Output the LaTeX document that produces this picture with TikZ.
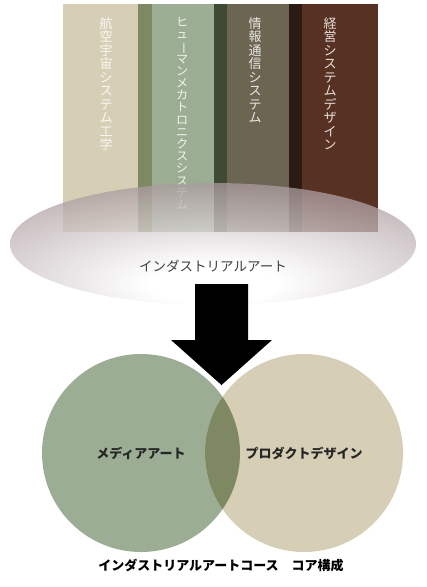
\documentclass[tikz,border=0pt]{standalone}
\usepackage{fontspec}
\setmainfont{Noto Sans CJK JP}
\usepackage{graphicx}
\usetikzlibrary{shapes.geometric}
\definecolor{sabbia}{HTML}{D6CFB5}
\definecolor{oliva}{HTML}{7E8963}
\definecolor{salvia}{HTML}{9BAE93}
\definecolor{bosco}{HTML}{3F4A34}
\definecolor{fango}{HTML}{6B6551}
\definecolor{ebano}{HTML}{2B1B12}
\definecolor{castagna}{HTML}{573222}
\definecolor{malva}{HTML}{9A878B}
\pgfdeclareradialshading{alone}{\pgfpoint{0bp}{-18bp}}{color(0bp)=(white); color(8bp)=(white); color(42bp)=(malva); color(100bp)=(malva)}
\tikzset{
colonna/.style={rectangle,inner sep=0pt,anchor=north west,minimum height=228pt},
verticale/.style={anchor=north,align=center,inner sep=0pt,text=white,text opacity=0.85,font=\fontsize{13}{13.5}\selectfont},
ellisse/.style={ellipse,inner sep=0pt,minimum width=406pt,minimum height=122pt,shading=alone,opacity=0.75},
cerchio/.style={circle,inner sep=0pt,minimum size=198pt,font=\bfseries\fontsize{13}{15}\selectfont,text=black!85},
contorno/.style={white,line width=7pt,line join=miter}}
\newcommand{\cho}{\makebox[1em]{\smash{\rotatebox[origin=c]{-90}{ー}}}}

\begin{document}
\begin{tikzpicture}[x=1pt,y=-1pt]
\useasboundingbox (0,0) rectangle (427,587);

% colonne
\node[colonna,fill=sabbia,minimum width=75pt] (aero) at (63,4) {};
\node[colonna,fill=oliva,minimum width=14pt] (s1) at (138,4) {};
\node[colonna,fill=salvia,minimum width=62pt] (umano) at (152,4) {};
\node[colonna,fill=bosco,minimum width=13pt] (s2) at (214,4) {};
\node[colonna,fill=fango,minimum width=62pt] (info) at (227,4) {};
\node[colonna,fill=ebano,minimum width=13pt] (s3) at (289,4) {};
\node[colonna,fill=castagna,minimum width=76pt] (gest) at (302,4) {};

\node[verticale] (t1) at (106,17) {航\\空\\宇\\宙\\シ\\ス\\テ\\ム\\工\\学};
\node[verticale,font=\fontsize{12}{12.2}\selectfont] (t2) at (182,17) {ヒ\\ュ\\\cho\\マ\\ン\\メ\\カ\\ト\\ロ\\ニ\\ク\\ス\\シ\\ス\\テ\\ム};
\node[verticale] (t3) at (255,17) {情\\報\\通\\信\\シ\\ス\\テ\\ム};
\node[verticale] (t4) at (330,17) {経\\営\\シ\\ス\\テ\\ム\\デ\\ザ\\イ\\ン};

% base
\node[ellisse] (arte) at (213,244) {};
\node[text=black!75,font=\fontsize{13.5}{15}\selectfont] (arte testo) at (213,266) {インダストリアルアート};

% cerchi
\node[cerchio,fill=salvia] (media) at (141,453) {};
\node[cerchio,fill=sabbia] (prodotto) at (304,453) {};
\begin{scope}
\clip (141,453) circle (99);
\fill[oliva] (304,453) circle (99);
\end{scope}
\node[cerchio,draw=none] at (media) {メディアアート};
\node[cerchio,draw=none] at (prodotto) {プロダクトデザイン};

% freccia
\coordinate (punta) at (221.5,385);
\draw[contorno] (171,340) -- (punta) -- (272,340);
\fill[black] (195,284) -- (248,284) -- (248,340) -- (272,340) -- (punta) -- (171,340) -- (195,340) -- cycle;

\node[font=\bfseries\fontsize{13}{15}\selectfont] (titolo) at (221,566) {インダストリアルアートコース　コア構成};

\end{tikzpicture}
\end{document}
